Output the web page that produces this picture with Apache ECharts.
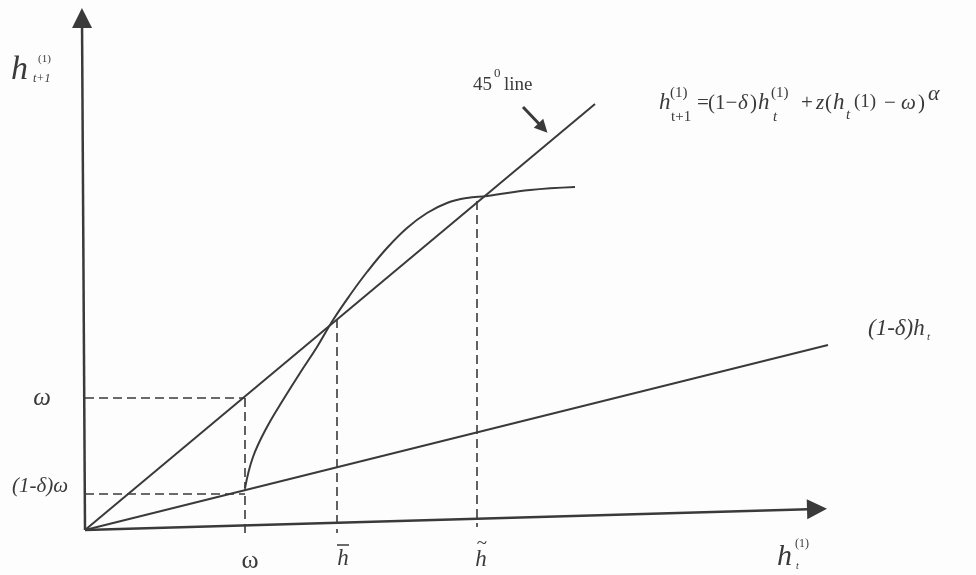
<!DOCTYPE html>
<html>
<head>
<meta charset="utf-8">
<script src="https://cdn.jsdelivr.net/npm/echarts@6/dist/echarts.min.js"></script>
<style>
html, body { margin: 0; padding: 0; background: #fdfdfd; }
#chart { width: 976px; height: 575px; }
</style>
</head>
<body>
<div id="chart"></div>
<script>
// diagram data, units measured from the corner of the two axes
const xAxisLine = [[0, 0], [732, 21]];
const yAxisLine = [[0, 0], [-3, 512]];
const line45 = [[0, 0], [510, 426]];
const depLine = [[0, 0], [743, 185]];          // (1-δ)h
const curveX = [160, 168, 182, 198, 215, 232, 248, 265, 282, 302, 322, 342, 362, 382, 402, 445, 490];
const curveY = [42, 73, 103, 130, 157, 183, 210, 235, 258, 282, 302, 317, 327, 332, 334, 340, 343];
const omegaX = 160;
const omegaY = 132;       // ω on the vertical axis
const depOmegaY = 36;     // (1-δ)ω
const hBar = [252, 211];
const hTilde = [392, 329];
const arrow45 = [[438, 423], [458, 402]];

const INK = '#3a3a3a';
const SERIF = '"Liberation Serif", "DejaVu Serif", serif';

const chart = echarts.init(document.getElementById('chart'));

const curve = curveX.map((x, i) => [x, curveY[i]]);

const dashed = [
  [[0, omegaY], [omegaX, omegaY]],
  [[omegaX, omegaY], [omegaX, -5]],
  [[0, depOmegaY], [omegaX, depOmegaY]],
  [[hBar[0], hBar[1]], [hBar[0], -3]],
  [[hTilde[0], hTilde[1]], [hTilde[0], 3]]
];

// text helper
function txt(x, y, s, size, italic, align) {
  return {
    type: 'text', x: x, y: y, silent: true,
    style: {
      text: s,
      font: (italic ? 'italic ' : '') + size + 'px ' + SERIF,
      fill: INK,
      textAlign: align || 'left',
      textVerticalAlign: 'middle'
    }
  };
}
function bar(x1, x2, y) {
  return { type: 'line', silent: true, shape: { x1: x1, y1: y, x2: x2, y2: y },
    style: { stroke: INK, lineWidth: 1.5 } };
}

const labels = [
  // vertical axis title
  txt(11, 70, 'h', 34, true),
  txt(38, 59, '(1)', 11, false),
  txt(33, 79, 't+1', 12, true),
  // equation
  txt(659, 103, 'h', 23, true),
  txt(670, 93, '(1)', 15, false),
  txt(671, 117, 't+1', 15, false),
  txt(697, 103, '=', 21, false),
  txt(708, 103, '(1\u2212', 21, false),
  txt(738, 103, '\u03b4', 21, true),
  txt(750, 103, ')', 21, false),
  txt(758, 103, 'h', 23, true),
  txt(771, 93, '(1)', 15, false),
  txt(773, 117, 't', 15, true),
  txt(801, 103, '+', 21, false),
  txt(816, 103, 'z', 21, true),
  txt(825, 103, '(', 21, false),
  txt(833, 103, 'h', 23, true),
  txt(846, 115, 't', 15, true),
  txt(854, 102, '(1)', 19, false),
  txt(884, 103, '\u2212', 21, false),
  txt(901, 103, '\u03c9', 21, true),
  txt(918, 103, ')', 21, false),
  txt(928, 94, '\u03b1', 22, true),
  // 45 degree line
  txt(473, 85, '45', 19, false),
  txt(494, 74, '0', 13, false),
  txt(504, 85, 'line', 19, false),
  // (1-δ)h_t
  txt(868, 329, '(1-\u03b4)h', 23, true),
  txt(927, 337, 't', 11, true),
  // left tick labels
  txt(42, 398, '\u03c9', 25, true, 'center'),
  txt(40, 486, '(1-\u03b4)\u03c9', 21, true, 'center'),
  // bottom tick labels
  txt(250, 561, '\u03c9', 26, false, 'center'),
  txt(343, 559, 'h', 23, true, 'center'),
  bar(337, 349, 545),
  txt(481, 560, 'h', 23, true, 'center'),
  txt(482, 544, '~', 19, false, 'center'),
  // horizontal axis title
  txt(777, 557, 'h', 30, true),
  txt(795, 544, '(1)', 12, false),
  txt(796, 566, 't', 10, true)
];

const option = {
  backgroundColor: '#fdfdfd',
  animation: false,
  grid: { left: 85, top: 10, width: 760, height: 520 },
  xAxis: { type: 'value', min: 0, max: 760, show: false },
  yAxis: { type: 'value', min: 0, max: 520, show: false },
  series: [
    {
      type: 'line', data: line45, showSymbol: false, clip: false,
      lineStyle: { color: INK, width: 2 }
    },
    {
      type: 'line', data: depLine, showSymbol: false, clip: false,
      lineStyle: { color: INK, width: 2 }
    },
    {
      type: 'line', data: curve, showSymbol: false, clip: false,
      smooth: 0.4,
      lineStyle: { color: INK, width: 2 }
    },
    {
      type: 'lines', coordinateSystem: 'cartesian2d', clip: false,
      symbol: 'none',
      lineStyle: { color: INK, width: 1.6, type: [9, 5], opacity: 1 },
      data: dashed.map(c => ({ coords: c }))
    },
    {
      type: 'lines', coordinateSystem: 'cartesian2d', clip: false,
      symbol: ['none', 'triangle'], symbolSize: [15, 20],
      lineStyle: { color: INK, width: 2.5, opacity: 1 },
      data: [{ coords: xAxisLine }, { coords: yAxisLine }]
    },
    {
      type: 'lines', coordinateSystem: 'cartesian2d', clip: false,
      symbol: ['none', 'triangle'], symbolSize: [11, 13],
      lineStyle: { color: INK, width: 3, opacity: 1 },
      data: [{ coords: arrow45 }]
    }
  ],
  graphic: labels
};

chart.setOption(option);
</script>
</body>
</html>
